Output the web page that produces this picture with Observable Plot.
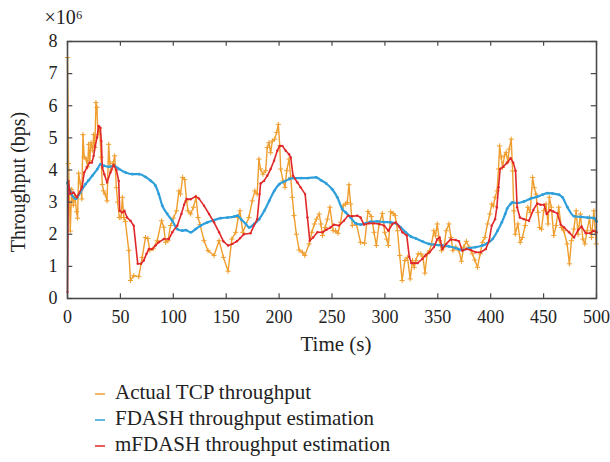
<!DOCTYPE html>
<html><head><meta charset="utf-8">
<script src="https://cdn.jsdelivr.net/npm/d3@7"></script>
<script src="https://cdn.jsdelivr.net/npm/@observablehq/plot@0.6"></script>
<style>
body{margin:0;background:#fff;font-family:"Liberation Serif","DejaVu Serif",serif;}
#legend{position:relative;height:100px;}
.item{position:absolute;left:95px;font-size:21px;color:#222;white-space:nowrap;}
.item svg{vertical-align:middle;margin-right:10px;}
</style></head><body>
<div id="chart"></div>
<div id="legend"></div>
<script>
const seriesNames = ["Actual TCP throughput","FDASH throughput estimation","mFDASH throughput estimation"];
const colors = ["#EF9E2E","#2E9FDA","#E0282A"];
const xTicks = [0,50,100,150,200,250,300,350,400,450,500];
const yTicks = [0,1,2,3,4,5,6,7,8];
const xLabel = "Time (s)";
const yLabel = "Throughput (bps)";
const expLabel = "×10⁶";

const actualT = [0,1,2.6,4,5.5,7,8.5,9.5,10.5,12,13.5,14.6,15.8,17.5,19,20,21,22.2,23.8,24.7,25.8,26.9,27.8,28.8,30.4,31.7,32.9,34,35.6,37.4,38.9,39.9,41.2,43,44.6,46.2,47.4,49,50.6,51.9,53.2,54.7,57.9,59.5,62.6,67.4,70.6,73.7,75.9,77.8,81,84.8,88.9,91,92.7,95,97.4,100,103,105.3,106.8,108.8,110.7,112.6,113.9,116.4,119,121.5,123.4,125.3,129,132.8,138.5,143.3,147.4,151.8,155.3,159,161.3,163,165.7,171.4,174.6,177.1,179.3,180.9,182.5,184.7,187.3,188.8,190.4,192,193.6,195.8,197.7,199.3,200.6,201.5,203.7,205.6,207.2,209.4,211,212.5,214.1,216.3,218.9,222,224.3,228.4,230.9,233.4,235.3,237.9,239.5,241,243.5,245.7,248,251.1,253.3,255.6,258.1,260.6,262.8,264.4,266,267.6,269.2,273.2,277,280.8,284,287.2,289.7,291.9,294.5,297.6,299.8,301.7,303.3,305.5,307.8,309.7,311.9,314,316.3,318.8,321.3,323.9,326.1,327.7,329.2,331.5,334,336,337.8,340,342.2,344.1,346.3,347.8,349.5,351.5,353.6,355.8,358,360.5,362.5,364.3,367,370,372.3,374.5,377,379.5,382.7,385,387.5,390,392.2,394.5,397,399.2,401,402.5,404.2,406,407.4,408.4,409.9,411.2,413,414.6,416.2,417.5,419.4,420.7,421.9,423.2,425.7,427.9,430,432.6,435.1,437.3,439.6,441.2,442.8,444.7,446.2,448,450.1,452.3,454.2,455.4,457.3,459.6,461.8,464.3,466.8,469.1,472.2,474.4,476.3,478.6,480.8,482.6,484.8,487.1,489,491.2,493.4,495.3,497.5,499.7];
const actualV = [7.5,4.2,2.1,3.4,2.9,3.2,2.7,2.5,3.9,3.6,3.1,5.1,4.4,4.35,4.1,4.8,4.3,4.85,4.6,5.1,4.7,6.1,5.95,5.1,5.3,4.4,3.55,3.35,3.25,3.04,4.8,4.25,4.0,4.2,4.44,3.45,3.0,2.52,2.52,3.15,2.52,2.4,1.5,0.56,0.71,0.68,1.28,1.9,1.87,1.5,1.55,1.8,2.42,2.22,1.75,1.8,2.27,2.5,2.73,3.35,3.25,3.77,3.7,3.04,2.73,2.63,2.84,3.15,2.52,2.3,1.8,1.49,1.34,1.8,1.28,0.85,1.85,2.06,2.52,2.73,2.06,2.52,3.04,3.35,3.25,4.34,4.03,3.87,3.98,4.7,4.85,4.54,4.9,4.96,5.17,5.42,4.75,4.03,3.66,3.46,3.98,4.34,3.77,3.15,2.58,2.0,1.51,1.44,1.34,1.7,2.06,2.32,2.47,2.63,2.32,1.96,2.21,2.47,2.84,2.11,2.11,2.03,2.37,2.89,2.94,2.99,3.54,2.94,2.27,2.3,1.75,1.72,2.71,2.55,2.06,1.65,2.32,2.65,2.06,1.85,1.65,2.7,2.65,2.58,2.11,1.34,0.56,1.18,1.28,0.61,1.18,0.97,1.18,1.39,1.39,1.3,0.79,1.39,1.49,1.7,2.11,1.95,2.32,1.8,1.49,1.6,2.11,2.32,1.9,1.49,1.6,1.49,1.16,1.6,1.78,1.6,1.39,1.2,0.97,1.39,1.75,1.9,2.32,2.63,2.94,2.88,3.15,3.35,4.03,4.75,4.4,4.08,4.44,4.55,4.25,4.65,4.96,3.97,2.73,2.0,2.32,1.75,1.9,2.27,2.84,2.68,3.77,3.45,3.25,2.68,2.21,2.16,2.73,2.94,2.32,3.15,2.84,1.96,2.27,2.84,2.21,2.11,1.7,1.08,1.8,2.16,2.73,2.0,2.63,1.85,1.7,2.11,2.52,1.9,2.73,1.7];

const fdashT = [0,3,8,12,17,20,23.4,28.2,31.3,34.5,39.3,44,48.8,55,61.3,67.7,74,78.8,83.2,86.3,89.6,94.3,99,103.8,108.5,111.6,116.4,121.1,125.9,132.2,138.5,144.8,151.2,157.5,160.7,164.5,168.6,171.7,176.5,181.2,186,190.7,195.4,200.2,205,209.7,214.4,220.7,227.1,235,239.7,244.5,250.2,255,259.7,262.9,267.6,272.3,277,281.8,286.5,292.8,299.2,305.5,310.3,315,319.7,324.5,329.2,335.3,341.6,347.9,354.3,360.6,366.9,373.2,379.5,385.9,392.2,396.9,401.7,406.5,410.5,413.7,415.6,418.8,420.4,425,431.4,437.8,444.1,448.8,453.5,458.3,464.6,467.8,472.5,478.8,485.2,491.5,497.8,500];
const fdashV = [3.6,3.3,3.1,3.3,3.56,3.68,3.82,4.03,4.18,4.13,4.1,4.13,4.03,3.92,3.87,3.87,3.78,3.66,3.51,3.25,2.89,2.63,2.42,2.16,2.11,2.13,2.06,2.16,2.27,2.37,2.44,2.5,2.52,2.55,2.58,2.45,2.32,2.21,2.32,2.47,2.73,3.04,3.35,3.56,3.64,3.72,3.75,3.75,3.75,3.77,3.68,3.58,3.4,3.15,2.78,2.68,2.52,2.34,2.3,2.34,2.39,2.4,2.38,2.37,2.34,2.21,2.06,1.93,1.87,1.78,1.7,1.67,1.65,1.62,1.57,1.51,1.57,1.6,1.65,1.72,1.85,2.11,2.37,2.63,2.8,2.94,2.99,2.97,3.02,3.11,3.17,3.23,3.28,3.27,3.23,3.15,2.84,2.56,2.54,2.52,2.5,2.4];

const mfdashT = [0,0.8,2.6,5.7,8.9,13.7,15.8,18.4,20.9,23.1,24.7,26.2,27.9,29.4,31,32,32.9,34.8,37.4,40.5,43.6,46.2,48.4,49.3,51.6,53.8,56.3,59.5,62.6,66.4,69.5,72.1,74.6,76.9,80,83.2,86.3,91,95.8,99,103.8,107.6,110.2,112.6,116.4,121.2,124.3,129,133.8,138.5,143.3,147.4,151.8,155.8,160.1,163.2,166.7,173,176.2,179.3,181.6,182.5,185.7,188.8,192,195.2,198.3,200.6,203.1,206.3,209.4,211,213.2,217.3,220.4,224.6,226.8,229,232.1,236.2,240.9,244.8,248.5,251.8,256.5,261.3,265.1,269.2,273.9,277,280.2,284.9,289.7,294.5,299.2,303.3,307.1,310.3,313.4,316.6,320.7,323,325.1,327.7,330.8,335.3,338.4,342.2,346.3,349.5,351.8,354.3,358,362.1,366.9,370,373.2,377,381.1,385.9,390.6,395.4,398.5,401,404.2,405.8,407.4,408.9,411.8,415.6,418.8,421.3,423.5,425,427.6,431.4,436.2,440.2,444,447.2,450.4,452.9,456.1,459.2,463,466.2,469.4,474.1,478.8,482.6,485.8,489.9,494,497.2,500];
const mfdashV = [0.2,3.66,3.25,3.3,3.15,3.46,3.92,4.08,4.23,4.23,4.44,4.75,5.01,5.37,5.32,4.9,4.08,3.87,3.61,3.92,4.16,4.0,3.66,2.73,2.68,2.73,2.52,2.42,2.27,1.08,1.08,1.18,1.39,1.54,1.54,1.65,1.75,1.85,1.85,2.06,2.27,2.63,2.92,3.1,3.09,3.18,3.11,2.89,2.63,2.37,2.06,1.78,1.65,1.7,1.78,1.88,2.0,2.03,2.27,2.47,3.25,3.58,3.66,3.82,4.03,4.29,4.6,4.75,4.75,4.6,4.49,4.39,3.82,3.61,3.46,3.25,2.52,1.8,1.9,2.06,2.06,2.14,2.21,2.3,2.27,2.42,2.58,2.56,2.58,2.52,2.3,2.34,2.34,2.32,2.27,2.11,2.32,2.37,2.24,2.06,1.96,1.3,1.1,1.1,1.1,1.23,1.34,1.44,1.6,1.85,1.9,1.54,1.7,1.84,1.82,1.78,1.49,1.54,1.51,1.44,1.44,1.54,1.8,2.27,2.47,2.84,3.46,4.03,4.1,4.23,4.37,4.23,3.98,2.84,2.52,2.47,2.42,2.75,2.96,2.92,2.92,2.63,2.75,2.71,2.65,2.3,2.21,2.06,1.9,2.13,2.24,2.03,2.03,2.11,2.06];

const mk = (T, V, s) => T.map((t, i) => ({t, v: V[i], s}));
const actual = mk(actualT, actualV, seriesNames[0]);
const fdash = mk(fdashT, fdashV, seriesNames[1]);
const mfdash = mk(mfdashT, mfdashV, seriesNames[2]);

const tickLenX = 5;
const tickLenY = 0.15;
const axisColor = "#4a4a4a";

const chart = Plot.plot({
  width: 610, height: 362,
  marginLeft: 67, marginRight: 14, marginTop: 41, marginBottom: 64,
  style: {fontFamily: '"Liberation Serif", serif', fontSize: "18px", color: "#222", background: "#fff"},
  x: {domain: [0, 500]},
  y: {domain: [0, 8]},
  marks: [
    Plot.line(actual, {x: "t", y: "v", stroke: colors[0], strokeWidth: 1.4}),
    Plot.dot(actual, {x: "t", y: "v", stroke: colors[0], symbol: "plus", r: 1.8, strokeWidth: 1}),
    Plot.line(fdash, {x: "t", y: "v", stroke: colors[1], strokeWidth: 2.2, curve: "monotone-x"}),
    Plot.dot(fdash, {x: "t", y: "v", fill: colors[1], r: 1.4}),
    Plot.line(mfdash, {x: "t", y: "v", stroke: colors[2], strokeWidth: 1.6}),
    Plot.dot(mfdash, {x: "t", y: "v", fill: colors[2], r: 1.2}),
    Plot.ruleX(xTicks, {x: d => d, y1: 0, y2: tickLenY, stroke: axisColor, strokeWidth: 1.2}),
    Plot.ruleX(xTicks, {x: d => d, y1: 8, y2: 8 - tickLenY, stroke: axisColor, strokeWidth: 1.2}),
    Plot.ruleY(yTicks, {y: d => d, x1: 0, x2: tickLenX, stroke: axisColor, strokeWidth: 1.2}),
    Plot.ruleY(yTicks, {y: d => d, x1: 500, x2: 500 - tickLenX, stroke: axisColor, strokeWidth: 1.2}),
    Plot.frame({stroke: axisColor, strokeWidth: 1.6}),
    Plot.axisX({ticks: xTicks, tickSize: 0, tickPadding: 12, label: null}),
    Plot.axisY({ticks: yTicks, tickSize: 0, tickPadding: 10, label: null}),
    Plot.text([xLabel], {frameAnchor: "bottom", dy: 52, text: d => d, fontSize: 21, fill: "#222", dx: 4}),
    Plot.text([yLabel], {frameAnchor: "left", dx: -49, dy: 12, rotate: -90, textAnchor: "middle", text: d => d, fontSize: 20, fill: "#222"}),
    Plot.text([expLabel], {frameAnchor: "top-left", dx: -23, dy: -32, text: d => d, fontSize: 20, textAnchor: "start", fill: "#222"})
  ]
});
document.getElementById("chart").appendChild(chart);

const legend = document.getElementById("legend");
seriesNames.forEach((name, i) => {
  const div = document.createElement("div");
  div.className = "item";
  div.style.top = (18 + i * 26) + "px";
  div.innerHTML = `<svg width="10" height="10"><line x1="0" y1="5" x2="10" y2="5" stroke="${colors[i]}" stroke-width="1.5"/></svg>${name}`;
  legend.appendChild(div);
});
</script>
</body></html>
